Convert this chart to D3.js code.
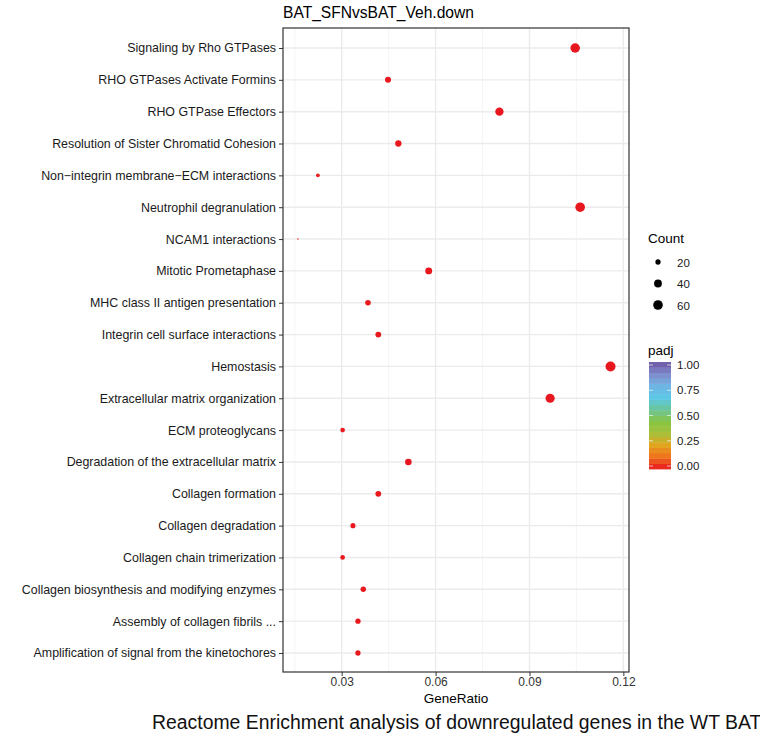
<!DOCTYPE html>
<html>
<head>
<meta charset="utf-8">
<script src="https://cdn.jsdelivr.net/npm/d3@7"></script>
<style>
  html, body { margin: 0; padding: 0; background: #fff; }
  text { font-family: "Liberation Sans", Arial, sans-serif; }
</style>
</head>
<body>
<svg id="chart" width="760" height="734"></svg>
<script>
// ---- data ----
const pathways = [
  "Signaling by Rho GTPases",
  "RHO GTPases Activate Formins",
  "RHO GTPase Effectors",
  "Resolution of Sister Chromatid Cohesion",
  "Non\u2212integrin membrane\u2212ECM interactions",
  "Neutrophil degranulation",
  "NCAM1 interactions",
  "Mitotic Prometaphase",
  "MHC class II antigen presentation",
  "Integrin cell surface interactions",
  "Hemostasis",
  "Extracellular matrix organization",
  "ECM proteoglycans",
  "Degradation of the extracellular matrix",
  "Collagen formation",
  "Collagen degradation",
  "Collagen chain trimerization",
  "Collagen biosynthesis and modifying enzymes",
  "Assembly of collagen fibrils ...",
  "Amplification of signal from the kinetochores"
];
const geneRatio = [0.1046, 0.0448, 0.0804, 0.0481, 0.0224, 0.1062, 0.0160, 0.0578, 0.0384, 0.0417,
                   0.1159, 0.0966, 0.0303, 0.0513, 0.0417, 0.0336, 0.0303, 0.0369, 0.0352, 0.0352];
const counts = [59, 25, 45, 27, 13, 60, 9, 32, 22, 23, 65, 54, 17, 29, 23, 19, 17, 21, 20, 20];
const padj = [0.0001, 0.002, 0.0003, 0.003, 0.01, 0.00001, 0.02, 0.001, 0.005, 0.004,
              0.000001, 0.0000001, 0.006, 0.0005, 0.002, 0.003, 0.004, 0.002, 0.003, 0.004];
const xTicks = [0.03, 0.06, 0.09, 0.12];
const xMinor = [0.015, 0.045, 0.075, 0.105];
const sizeLegend = [20, 40, 60];
const padjTicks = [0, 0.25, 0.5, 0.75, 1.0];
const padjColors = ["#E8161E", "#F0701E", "#E3A41E", "#A9C03A", "#86C541", "#6CC597", "#5BC8E6", "#70B4E4", "#7E8CCB", "#6E56A6"];
const titleText = "BAT_SFNvsBAT_Veh.down";
const xLabel = "GeneRatio";
const caption = "Reactome Enrichment analysis of downregulated genes in the WT BAT";

// ---- layout ----
const svg = d3.select("#chart");
const P = { left: 283, right: 629, top: 28, bottom: 672 };

const x = d3.scaleLinear().domain([0.01125, 0.1218]).range([P.left, P.right]);
const y = d3.scalePoint().domain(pathways).range([48, 653]);
const sz = d3.scaleLinear().domain([0, 1]).range([1.5, 10]);
const cMin = d3.min(counts), cMax = d3.max(counts);
const diam = c => sz(Math.sqrt((c - cMin) / (cMax - cMin)));
const color = d3.scaleLinear()
  .domain(d3.range(padjColors.length).map(i => i / (padjColors.length - 1)))
  .range(padjColors);

// panel background
svg.append("rect").attr("x", P.left).attr("y", P.top)
  .attr("width", P.right - P.left).attr("height", P.bottom - P.top).attr("fill", "#fff");

// minor grid
svg.append("g").selectAll("line").data(xMinor).join("line")
  .attr("x1", d => x(d)).attr("x2", d => x(d))
  .attr("y1", P.top).attr("y2", P.bottom)
  .attr("stroke", "#F2F2F2").attr("stroke-width", 0.8);
// major grid
svg.append("g").selectAll("line").data(xTicks).join("line")
  .attr("x1", d => x(d)).attr("x2", d => x(d))
  .attr("y1", P.top).attr("y2", P.bottom)
  .attr("stroke", "#EBEBEB").attr("stroke-width", 1.4);
svg.append("g").selectAll("line").data(pathways).join("line")
  .attr("x1", P.left).attr("x2", P.right)
  .attr("y1", d => y(d)).attr("y2", d => y(d))
  .attr("stroke", "#EBEBEB").attr("stroke-width", 1.4);

// points
svg.append("g").selectAll("circle").data(pathways).join("circle")
  .attr("cx", (d, i) => x(geneRatio[i]))
  .attr("cy", d => y(d))
  .attr("r", (d, i) => diam(counts[i]) / 2)
  .attr("fill", (d, i) => color(padj[i]));

// panel border
svg.append("rect").attr("x", P.left).attr("y", P.top)
  .attr("width", P.right - P.left).attr("height", P.bottom - P.top)
  .attr("fill", "none").attr("stroke", "#333").attr("stroke-width", 1.2);

// axes
const yAxis = d3.axisLeft(y).tickSize(4).tickPadding(3);
const gy = svg.append("g").attr("transform", `translate(${P.left},0)`).call(yAxis);
gy.select(".domain").remove();
gy.selectAll("line").attr("stroke", "#333");
gy.selectAll("text").attr("fill", "#1a1a1a").attr("font-size", 12.4)
  .style("font-family", "'Liberation Sans', Arial, sans-serif");

const xAxis = d3.axisBottom(x).tickValues(xTicks).tickFormat(d3.format(".2f")).tickSize(4).tickPadding(1.5);
const gx = svg.append("g").attr("transform", `translate(0,${P.bottom})`).call(xAxis);
gx.select(".domain").remove();
gx.selectAll("line").attr("stroke", "#333");
gx.selectAll("text").attr("fill", "#333").attr("font-size", 12)
  .style("font-family", "'Liberation Sans', Arial, sans-serif");

// titles
svg.append("text").attr("x", P.left).attr("y", 17.5)
  .attr("text-anchor", "start").attr("font-size", 15.6).attr("fill", "#000").text(titleText);
svg.append("text").attr("x", (P.left + P.right) / 2).attr("y", 703)
  .attr("text-anchor", "middle").attr("font-size", 13.5).attr("fill", "#000").text(xLabel);
svg.append("text").attr("x", 152).attr("y", 729)
  .attr("font-size", 19.4).attr("fill", "#111").text(caption);

// size legend
const lg = svg.append("g");
lg.append("text").attr("x", 648).attr("y", 243).attr("font-size", 13.5).text("Count");
sizeLegend.forEach((v, i) => {
  const cy = 262 + i * 21.5;
  lg.append("circle").attr("cx", 658).attr("cy", cy).attr("r", diam(v) / 2).attr("fill", "#000");
  lg.append("text").attr("x", 677).attr("y", cy + 4.5).attr("font-size", 11.5).attr("fill", "#1a1a1a").text(v);
});

// colorbar legend
lg.append("text").attr("x", 648).attr("y", 355).attr("font-size", 13.5).text("padj");
const cbX = 649, cbW = 22, cbTop = 362, cbBot = 469;
const cb = d3.scaleLinear().domain([0, 1]).range([cbBot - 3, cbTop + 3]);
const nbin = 20;
const binH = (cbBot - cbTop) / nbin;
d3.range(nbin).forEach(i => {
  const v = (i + 0.5) / nbin;
  lg.append("rect").attr("x", cbX).attr("y", cbBot - (i + 1) * binH)
    .attr("width", cbW).attr("height", binH + 0.4).attr("fill", color(v));
});
padjTicks.forEach(t => {
  lg.append("line").attr("x1", cbX).attr("x2", cbX + 4).attr("y1", cb(t)).attr("y2", cb(t))
    .attr("stroke", "#fff").attr("stroke-width", 0.8).attr("opacity", 0.8);
  lg.append("line").attr("x1", cbX + cbW - 4).attr("x2", cbX + cbW).attr("y1", cb(t)).attr("y2", cb(t))
    .attr("stroke", "#fff").attr("stroke-width", 0.8).attr("opacity", 0.8);
  lg.append("text").attr("x", 677).attr("y", cb(t) + 4).attr("font-size", 11.5).attr("fill", "#1a1a1a")
    .text(d3.format(".2f")(t));
});
</script>
</body>
</html>
